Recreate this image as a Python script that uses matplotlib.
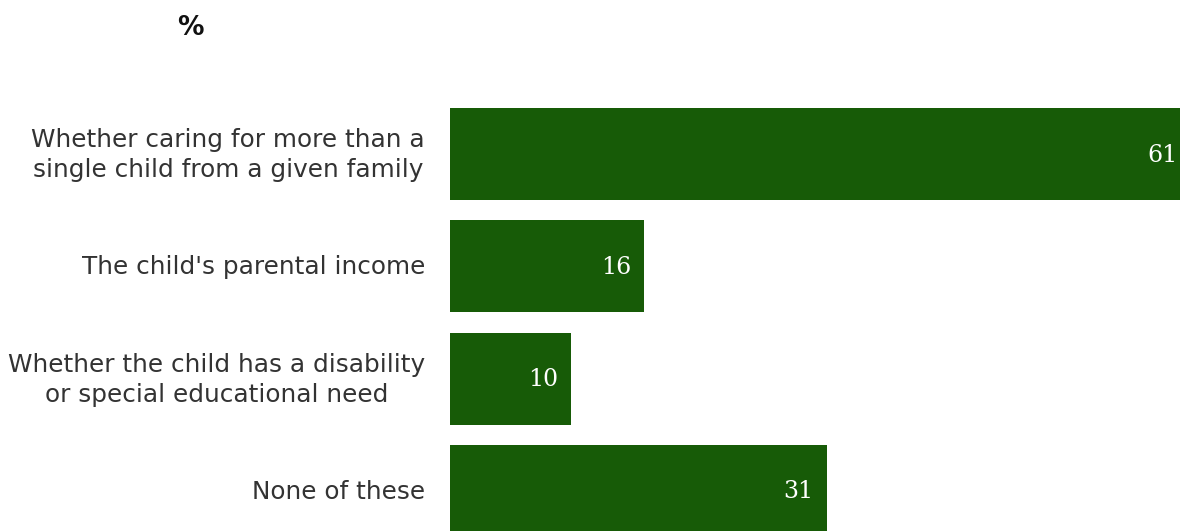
import matplotlib
matplotlib.use("Agg")
import matplotlib.pyplot as plt

categories = [
    "Whether caring for more than a\nsingle child from a given family",
    "The child's parental income",
    "Whether the child has a disability\nor special educational need",
    "None of these",
]
values = [61, 16, 10, 31]

BAR_COLOR = "#175b07"
TEXT_COLOR = "#333333"

fig = plt.figure(figsize=(11.8, 5.31), dpi=100)
ax = fig.add_axes([450 / 1180, 0, 1 - 450 / 1180, 1])

ypos = list(range(len(categories)))
bars = ax.barh(ypos, values, height=0.82, color=BAR_COLOR, edgecolor="none")

ax.set_xlim(0, 60.1)
pitch = 112.3
ax.set_ylim(3 + (531 - 491) / pitch, -154 / pitch)

for y, v in zip(ypos, values):
    ax.annotate(str(v), xy=(v, y), xytext=(-13, -1), textcoords="offset pixels",
                ha="right", va="center", color="white", fontsize=17,
                family="DejaVu Serif", annotation_clip=False)

for y, label in zip(ypos, categories):
    ax.annotate(label, xy=(0, y), xytext=(-25, -1), textcoords="offset pixels",
                ha="right", va="center", multialignment="center",
                color=TEXT_COLOR, fontsize=17.8, family="DejaVu Sans",
                linespacing=1.33, annotation_clip=False)

ax.set_axis_off()

fig.text(190 / 1180, 1 - 28 / 531, "%", ha="center", va="center",
         fontsize=19, fontweight="bold", color="#111111", family="DejaVu Sans")

fig.savefig("out.png", dpi=100, facecolor="white")
